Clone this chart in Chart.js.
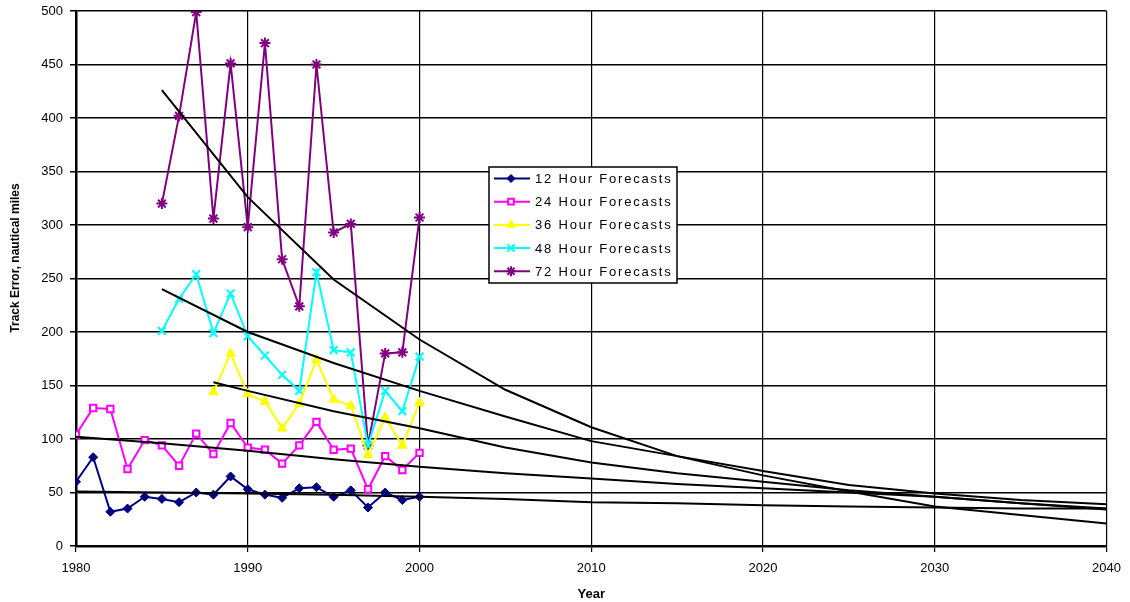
<!DOCTYPE html>
<html>
<head>
<meta charset="utf-8">
<script src="https://cdn.jsdelivr.net/npm/chart.js@4/dist/chart.umd.min.js"></script>
<style>
  html, body { margin: 0; padding: 0; background: #fff; }
</style>
</head>
<body>
<canvas id="chart" width="1130" height="602"></canvas>
<script>
var years = [1980, 1981, 1982, 1983, 1984, 1985, 1986, 1987, 1988, 1989, 1990,
  1991, 1992, 1993, 1994, 1995, 1996, 1997, 1998, 1999, 2000];
var hr12 = [60, 83, 32, 35, 46, 44, 41, 50, 48, 65, 53, 48, 45, 54, 55, 46, 52, 36, 50, 43, 46];
var hr24 = [104, 129, 128, 72, 99, 94, 75, 105, 86, 115, 92, 90, 77, 94, 116, 90, 91, 53, 84, 71, 87];

var years36 = [1988, 1989, 1990, 1991, 1992, 1993, 1994, 1995, 1996, 1997, 1998, 1999, 2000];
var hr36 = [144, 180, 142, 135, 110, 133, 174, 137, 131, 85, 120, 94, 134];

var years48 = [1985, 1986, 1987, 1988, 1989, 1990, 1991, 1992, 1993, 1994, 1995, 1996, 1997, 1998, 1999, 2000];
var hr48 = [201, 231, 254, 199, 236, 196, 178, 160, 145, 256, 183, 181, 94, 145, 126, 177];
var hr72 = [320, 402, 499, 306, 451, 298, 470, 268, 224, 450, 293, 301, 94, 180, 181, 307];

// trend lines (black), sampled every 5 years out to 2040
var trendYears = [1980, 1985, 1990, 1995, 2000, 2005, 2010, 2015, 2020, 2025, 2030, 2035, 2040];
var trend12 = [51, 50, 49, 48, 46, 44, 41, 40, 38, 37, 36, 35, 35];
var trend24 = [102, 96, 89, 81, 74, 68, 63, 58, 54, 50, 46, 40, 35];
var trendYears36 = [1988, 1990, 1995, 2000, 2005, 2010, 2015, 2020, 2025, 2030, 2035, 2040];
var trend36 = [153, 145, 126, 110, 92, 78, 68, 60, 52, 46, 40, 34];
var trendYears48 = [1985, 1990, 1995, 2000, 2005, 2010, 2015, 2020, 2025, 2030, 2035, 2040];
var trend48 = [240, 200, 171, 145, 121, 98, 84, 70, 57, 49, 43, 39];
var trend72 = [426, 326, 249, 193, 146, 111, 84, 66, 51, 37, 29, 21];

var xTicks = [1980, 1990, 2000, 2010, 2020, 2030, 2040];

function pts(xs, ys) {
  return xs.map(function (x, i) { return { x: x, y: ys[i] }; });
}

var FONT = '"Liberation Sans", Arial, sans-serif';

var series = [
  { label: '12 Hour Forecasts', data: pts(years, hr12), color: '#000080', style: 'rectRot', r: 4.5, bw: 1, fill: '#000080' },
  { label: '24 Hour Forecasts', data: pts(years, hr24), color: '#FF00FF', style: 'rect', r: 4.5, bw: 2, fill: '#ffffff' },
  { label: '36 Hour Forecasts', data: pts(years36, hr36), color: '#FFFF00', style: 'triangle', r: 5.5, bw: 1, fill: '#FFFF00' },
  { label: '48 Hour Forecasts', data: pts(years48, hr48), color: '#00FFFF', style: 'crossRot', r: 5.5, bw: 2, fill: '#00FFFF' },
  { label: '72 Hour Forecasts', data: pts(years48, hr72), color: '#800080', style: 'star', r: 5.5, bw: 2, fill: '#800080' }
];

var trends = [
  pts(trendYears, trend12),
  pts(trendYears, trend24),
  pts(trendYears36, trend36),
  pts(trendYears48, trend48),
  pts(trendYears48, trend72)
];

var datasets = [];
series.forEach(function (s) {
  datasets.push({
    label: s.label,
    data: s.data,
    borderColor: s.color,
    backgroundColor: s.fill,
    borderWidth: 2,
    pointStyle: s.style,
    pointRadius: s.r,
    pointBorderWidth: s.bw,
    pointBorderColor: s.color,
    pointBackgroundColor: s.fill,
    tension: 0,
    order: 2
  });
});
trends.forEach(function (t) {
  datasets.push({
    label: 'trend',
    data: t,
    borderColor: '#000000',
    borderWidth: 2,
    pointRadius: 0,
    tension: 0,
    order: 1
  });
});

// legend box drawn inside the plot, plus the y title (sits a bit above centre in the original)
var boxLegend = {
  id: 'boxLegend',
  afterDatasetsDraw: function (chart) {
    var ctx = chart.ctx;
    var x0 = 489, y0 = 167, w = 188, h = 116;
    ctx.save();
    ctx.fillStyle = '#ffffff';
    ctx.fillRect(x0, y0, w, h);
    ctx.strokeStyle = '#000000';
    ctx.lineWidth = 1.5;
    ctx.strokeRect(x0, y0, w, h);
    series.forEach(function (s, i) {
      var y = y0 + 11.5 + i * 23.2;
      ctx.strokeStyle = s.color;
      ctx.lineWidth = 2;
      ctx.beginPath();
      ctx.moveTo(x0 + 5, y);
      ctx.lineTo(x0 + 41, y);
      ctx.stroke();
      ctx.fillStyle = s.fill;
      ctx.lineWidth = s.bw;
      Chart.helpers.drawPoint(ctx, { pointStyle: s.style, radius: s.r - 0.5, rotation: 0, borderWidth: s.bw }, x0 + 22, y);
      ctx.fillStyle = '#000000';
      ctx.font = '13px ' + FONT;
      ctx.letterSpacing = '1.8px';
      ctx.textBaseline = 'middle';
      ctx.fillText(s.label, x0 + 46, y + 1);
      ctx.letterSpacing = '0px';
    });

    ctx.translate(16, 258);
    ctx.rotate(-Math.PI / 2);
    ctx.fillStyle = '#000';
    ctx.font = 'bold 12px ' + FONT;
    ctx.textAlign = 'center';
    ctx.textBaseline = 'middle';
    ctx.fillText('Track Error, nautical miles', 0, 0);
    ctx.restore();
  }
};

new Chart(document.getElementById('chart'), {
  type: 'line',
  data: { datasets: datasets },
  plugins: [boxLegend],
  options: {
    responsive: false,
    animation: false,
    layout: { padding: { left: 8, right: 23, top: 11, bottom: 0 } },
    plugins: {
      legend: { display: false },
      tooltip: { enabled: false }
    },
    scales: {
      x: {
        type: 'linear',
        min: 1980,
        max: 2040,
        afterBuildTicks: function (axis) {
          axis.ticks = xTicks.map(function (v) { return { value: v }; });
        },
        afterFit: function (axis) { axis.height = 56; },
        ticks: {
          color: '#000',
          font: { family: FONT, size: 13 },
          padding: 9,
          maxRotation: 0,
          callback: function (v) { return String(v); }
        },
        grid: { color: '#000', lineWidth: 1.2, tickLength: 6, drawTicks: true },
        border: { color: '#000', width: 2.5 },
        title: {
          display: true,
          text: 'Year',
          color: '#000',
          font: { family: FONT, size: 13, weight: 'bold' },
          padding: { top: 4, bottom: 0 }
        }
      },
      y: {
        min: 0,
        max: 500,
        afterFit: function (axis) {
          axis.width = 68;
          axis.paddingTop = 0;
          axis.paddingBottom = 0;
        },
        ticks: {
          stepSize: 50,
          color: '#000',
          font: { family: FONT, size: 13, lineHeight: 0.8 },
          padding: 7
        },
        grid: { color: '#000', lineWidth: 1.5, tickLength: 6 },
        border: { color: '#000', width: 2.5 }
      }
    }
  }
});
</script>
</body>
</html>
